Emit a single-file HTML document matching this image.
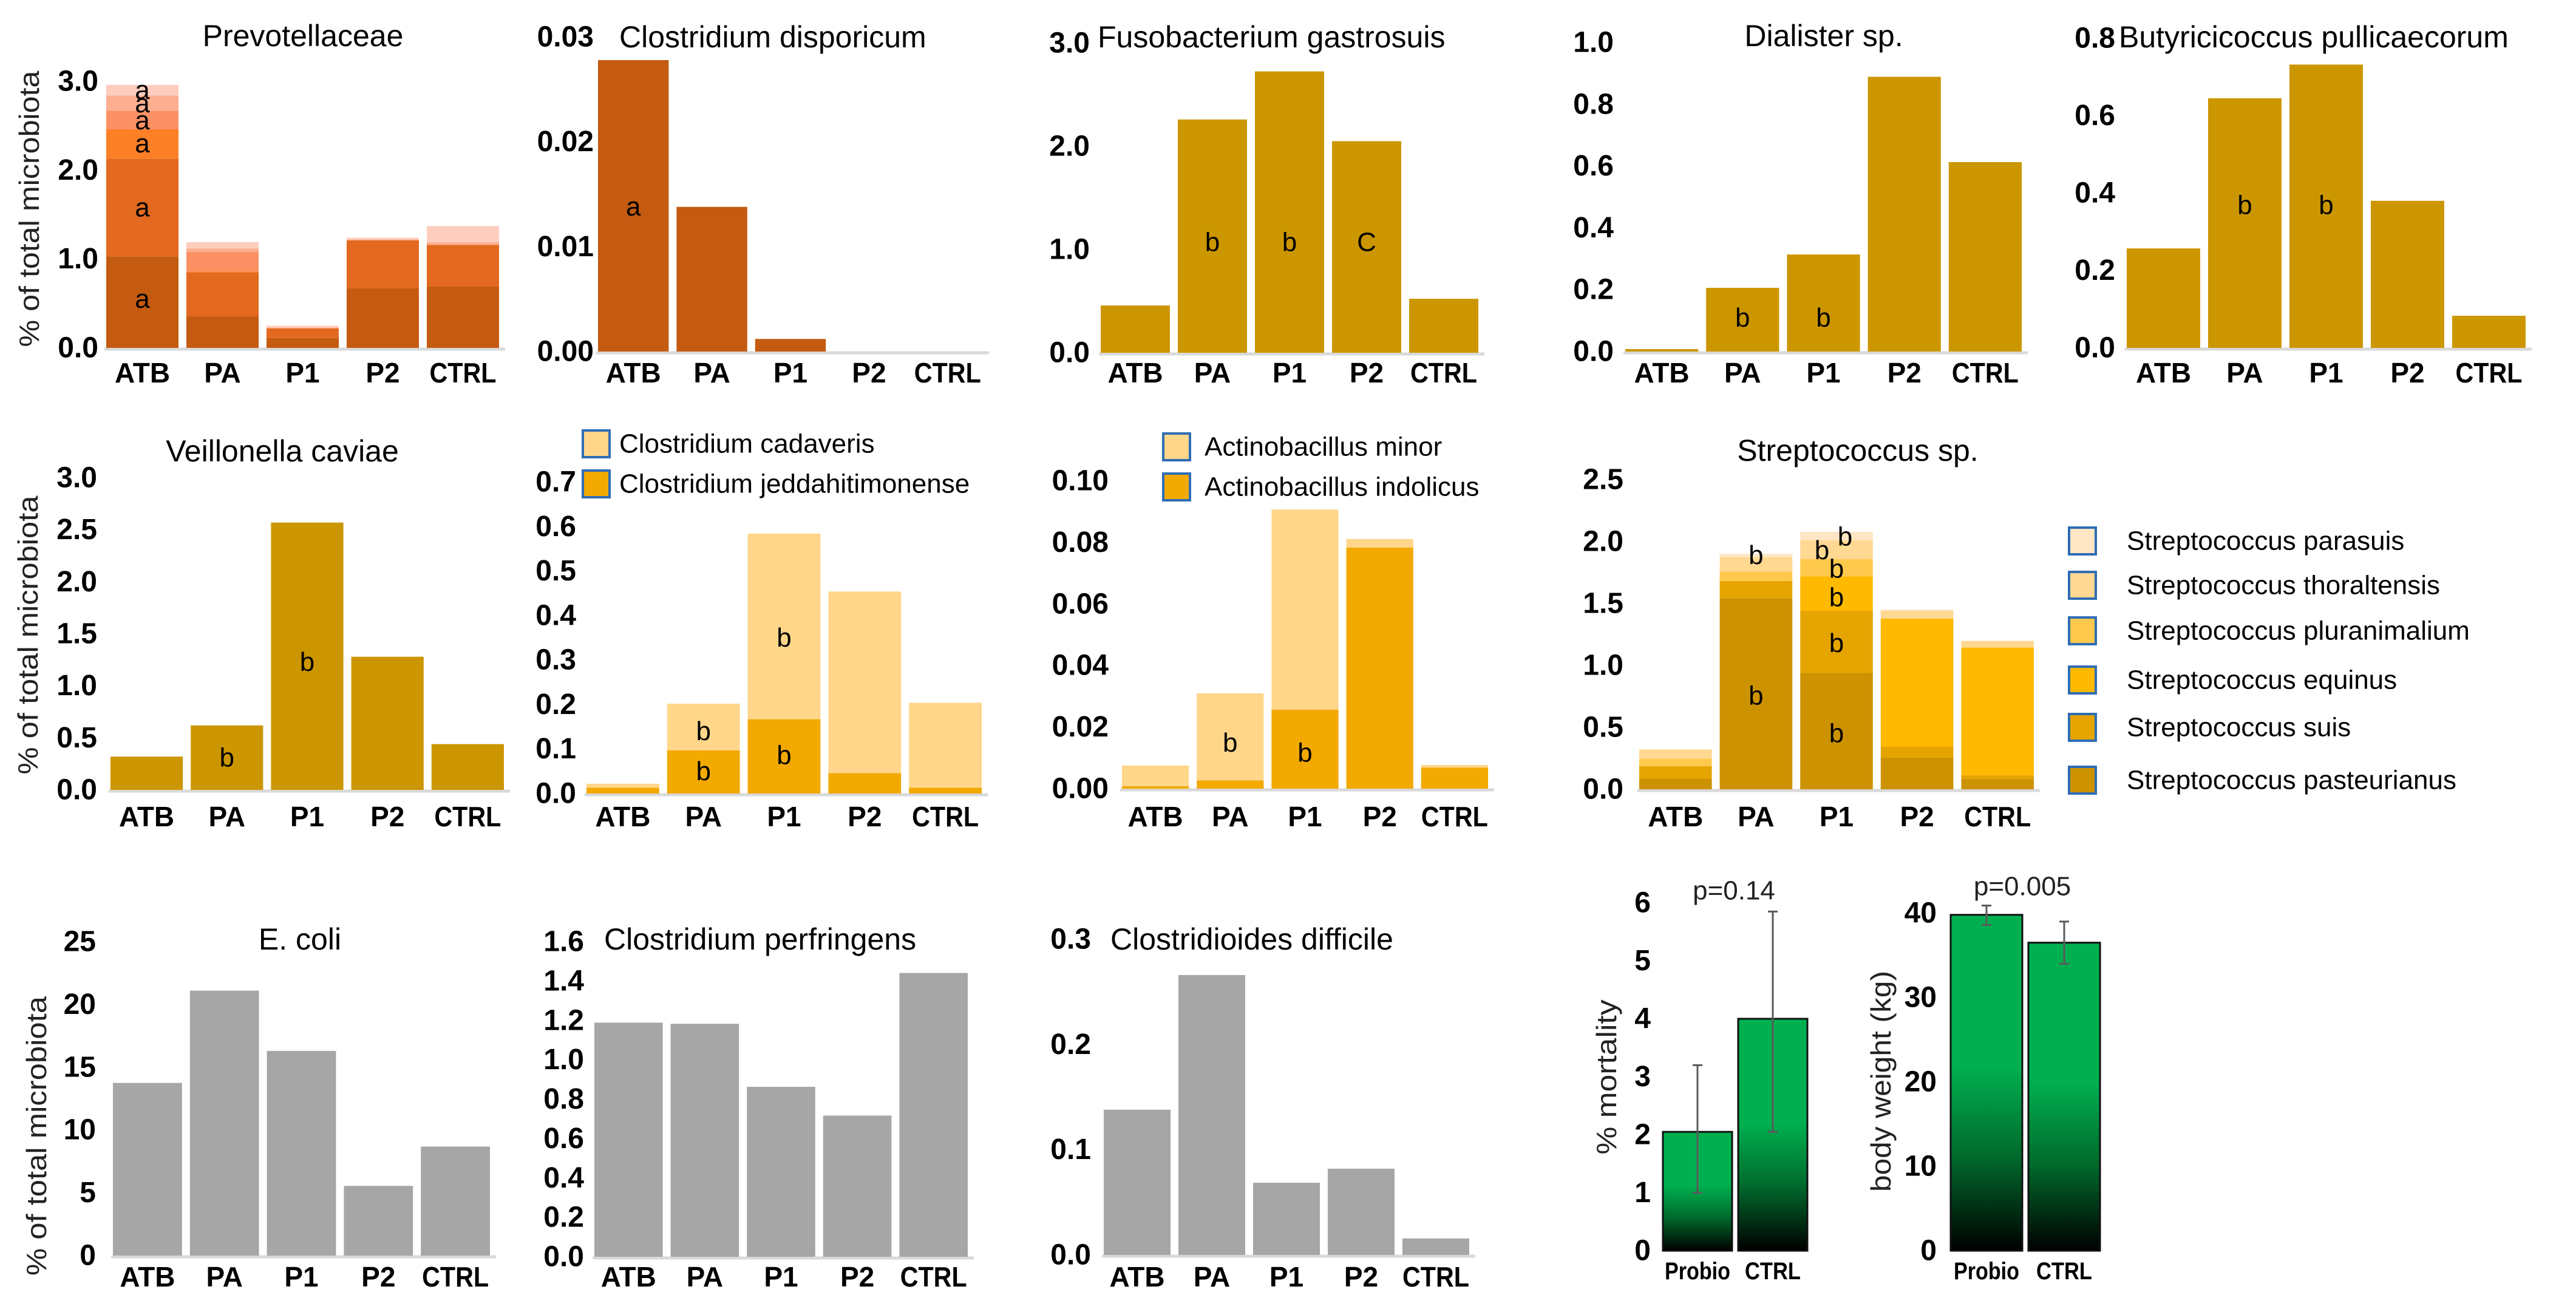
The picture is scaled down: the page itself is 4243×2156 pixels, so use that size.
<!DOCTYPE html>
<html><head><meta charset="utf-8">
<style>
html,body{margin:0;padding:0;background:#fff;}
svg{display:block;font-family:"Liberation Sans",sans-serif;}
</style></head>
<body>
<svg id="fig" width="4243" height="2156" viewBox="0 0 4243 2156">
<defs>
<linearGradient id="greenGrad" x1="0" y1="0" x2="0" y2="1">
<stop offset="0" stop-color="#00b050"/><stop offset="0.45" stop-color="#00b050"/><stop offset="0.72" stop-color="#006a2c"/><stop offset="1" stop-color="#000"/>
</linearGradient>
</defs>
<rect width="4243" height="2156" fill="#fff"/>
</svg>
<script>
// ---------- data ----------
const categories = ['ATB','PA','P1','P2','CTRL'];
const prevoL1 = [1.03, 0.355, 0.11, 0.67, 0.69];
const prevoL2 = [1.10, 0.495, 0.11, 0.54, 0.47];
const prevoL3 = [0.33, 0.01, 0.0, 0.0, 0.0];
const prevoL4 = [0.21, 0.22, 0.0, 0.0, 0.0];
const prevoL5 = [0.17, 0.04, 0.01, 0.01, 0.03];
const prevoL6 = [0.12, 0.07, 0.02, 0.02, 0.18];
const disporicum = [0.0278, 0.0138, 0.0012, 0, 0];
const fusobacterium = [0.458, 2.26, 2.726, 2.05, 0.523];
const dialister = [0.008, 0.206, 0.314, 0.889, 0.613];
const butyricicoccus = [0.257, 0.645, 0.732, 0.38, 0.083];
const veillonella = [0.32, 0.62, 2.57, 1.28, 0.44];
const clJeddah = [0.013, 0.097, 0.167, 0.046, 0.013];
const clCadaveris = [0.009, 0.105, 0.417, 0.408, 0.191];
const actIndolicus = [0.0008, 0.0027, 0.0257, 0.0783, 0.0068];
const actMinor = [0.0067, 0.0283, 0.065, 0.0028, 0.0009];
const strPasteurianus = [0.086, 1.543, 0.939, 0.255, 0.083];
const strSuis = [0.101, 0.139, 0.502, 0.09, 0.03];
const strEquinus = [0, 0, 0.277, 1.033, 1.031];
const strPluranimalium = [0.061, 0.075, 0.14, 0, 0];
const strThoraltensis = [0.074, 0.117, 0.153, 0.063, 0.054];
const strParasuis = [0, 0.027, 0.068, 0.01, 0];
const ecoli = [13.75, 21.1, 16.3, 5.55, 8.68];
const perfringens = [1.189, 1.183, 0.863, 0.717, 1.441];
const difficile = [0.138, 0.266, 0.0686, 0.082, 0.0157];
const groups2 = ['Probio','CTRL'];
const mortality = [2.05, 4.0];
const mortalityLow = [1.0, 2.05];
const mortalityHigh = [3.2, 5.85];
const bodyWeight = [39.8, 36.5];
const bodyWeightLow = [38.6, 34.0];
const bodyWeightHigh = [40.9, 39.0];
const ticks0to3 = ['0.0','1.0','2.0','3.0'];
const ticksDispor = ['0.00','0.01','0.02','0.03'];
const ticksDial = ['0.0','0.2','0.4','0.6','0.8','1.0'];
const ticksButyr = ['0.0','0.2','0.4','0.6','0.8'];
const ticksVeil = ['0.0','0.5','1.0','1.5','2.0','2.5','3.0'];
const ticksClost = ['0.0','0.1','0.2','0.3','0.4','0.5','0.6','0.7'];
const ticksActino = ['0.00','0.02','0.04','0.06','0.08','0.10'];
const ticksStrep = ['0.0','0.5','1.0','1.5','2.0','2.5'];
const ticksEcoli = ['0','5','10','15','20','25'];
const ticksPerf = ['0.0','0.2','0.4','0.6','0.8','1.0','1.2','1.4','1.6'];
const ticksDiff = ['0.0','0.1','0.2','0.3'];
const ticksMort = ['0','1','2','3','4','5','6'];
const ticksBW = ['0','10','20','30','40'];
const prevoLetters = [[0,0.55,'a',0],[0,1.58,'a',0],[0,2.3,'a',0],[0,2.56,'a',0],[0,2.75,'a',0],[0,2.9,'a',0]];
const disporLetters = [[0,0.0138,'a',0]];
const fusoLetters = [[1,1.07,'b',0],[2,1.07,'b',0],[3,1.07,'C',0]];
const dialLetters = [[1,0.109,'b',0],[2,0.109,'b',0]];
const butyrLetters = [[1,0.369,'b',0],[2,0.369,'b',0]];
const veilLetters = [[1,0.31,'b',0],[2,1.23,'b',0]];
const clostLetters = [[1,0.05,'b',0],[1,0.14,'b',0],[2,0.086,'b',0],[2,0.35,'b',0]];
const actinoLetters = [[1,0.0149,'b',0],[2,0.0116,'b',0]];
const strepLetters = [[1,0.754,'b',0],[1,1.89,'b',0],[2,0.45,'b',0],[2,1.18,'b',0],[2,1.55,'b',0],[2,1.78,'b',0],[2,1.93,'b',-24],[2,2.04,'b',14]];

const svg = document.getElementById('fig');
const NS = svg.namespaceURI;
function mk(tag, attrs, parent){
  const el = document.createElementNS(NS, tag);
  for (const k in attrs) el.setAttribute(k, attrs[k]);
  (parent || svg).appendChild(el);
  return el;
}
function txt(str, attrs, parent){
  const el = mk('text', attrs, parent);
  el.textContent = str;
  return el;
}

function panel(o){
  const g = mk('g', {});
  
  
  const band = (o.x1 - o.x0) / categories.length;
  const yS = v => o.base - (v / o.vmax) * (o.base - o.top);
  const ax = mk('line', {x1:o.x0, x2:o.x1, y1:o.base+2, y2:o.base+2, stroke:'#d9d9d9', 'stroke-width':5}, g);
  
  
  o.ticks.forEach((t, i) => {
    const v = o.vmax * i / (o.ticks.length - 1);
    const tl = txt(t, {x:o.tickRight, y:yS(v), 'text-anchor':'end', 'dominant-baseline':'central', 'font-size':48, 'font-weight':'bold', fill:'#000'}, g);
    
    
  });
  categories.forEach((c, i) => {
    let acc = 0;
    const bx = o.x0 + i * band + 3;
    const bw = band - 13;
    o.series.forEach((s, k) => {
      const v = s[i];
      if (v > 0) {
        const r = mk('rect', {x:bx, y:yS(acc + v), width:bw, height:yS(acc) - yS(acc + v), fill:o.colors[k]}, g);
        
        
      }
      acc += v;
    });
    const attrs = {x:bx + bw/2, y:o.catY, 'text-anchor':'middle', 'dominant-baseline':'central', 'font-size':46, 'font-weight':'bold', fill:'#000'};
    if (c.length > 3) { attrs.textLength = 110; attrs.lengthAdjust = 'spacingAndGlyphs'; }
    const cl = txt(c, attrs, g);
    
    
  });
  (o.letters || []).forEach(L => {
    const bx = o.x0 + L[0] * band + 3 + (band - 13) / 2 + L[3];
    const lt = txt(L[2], {x:bx, y:yS(L[1]), 'text-anchor':'middle', 'dominant-baseline':'central', 'font-size':44, fill:'#000'}, g);
    
    
  });
  if (o.title) {
    const tt = txt(o.title, {x:o.titleX, y:o.titleY, 'text-anchor':o.titleAnchor || 'middle', 'dominant-baseline':'central', 'font-size':50, fill:'#000'}, g);
    
    
  }
  return g;
}

function legend(items, colors, x, ys, textX){
  items.forEach((name, i) => {
    const r = mk('rect', {x:x, y:ys[i]-22, width:44, height:44, fill:colors[i], stroke:'#2e6db4', 'stroke-width':4});
    
    
    const t = txt(name, {x:textX, y:ys[i], 'dominant-baseline':'central', 'font-size':44, fill:'#000'});
    
    
  });
}

function yTitle(str, x, y, len){
  const t = txt(str, {x:x, y:y, transform:'rotate(-90 '+x+' '+y+')', 'text-anchor':'middle', 'dominant-baseline':'central', 'font-size':46, fill:'#222', textLength:len, lengthAdjust:'spacingAndGlyphs'});
  
  
}

const orange = ['#c55a11','#e2691f','#fd7f26','#fb9164','#fcae90','#fecdbd'];
const gold = ['#cc9600'];
const grey = ['#a6a6a6'];
const clostColors = ['#f2a900','#ffd68a'];
const strepColors = ['#cc9200','#e6a400','#ffb900','#ffc94d','#ffd891','#ffe6c4'];

panel({name:'prevotellaceae-chart', x0:172, x1:832, base:573, top:134, vmax:3, ticks:ticks0to3, tickRight:162, catY:614,
  series:[prevoL1,prevoL2,prevoL3,prevoL4,prevoL5,prevoL6], colors:orange, letters:prevoLetters,
  title:'Prevotellaceae', titleX:499, titleY:59});
panel({name:'clostridium-disporicum-chart', x0:982, x1:1629, base:579, top:61, vmax:0.03, ticks:ticksDispor, tickRight:978, catY:614,
  series:[disporicum], colors:['#c55a11'], letters:disporLetters,
  title:'Clostridium disporicum', titleX:1020, titleY:61, titleAnchor:'start'});
panel({name:'fusobacterium-chart', x0:1810, x1:2445, base:581, top:71, vmax:3, ticks:ticks0to3, tickRight:1795, catY:614,
  series:[fusobacterium], colors:gold, letters:fusoLetters,
  title:'Fusobacterium gastrosuis', titleX:1808, titleY:61, titleAnchor:'start'});
panel({name:'dialister-chart', x0:2674, x1:3340, base:579, top:70, vmax:1.0, ticks:ticksDial, tickRight:2658, catY:614,
  series:[dialister], colors:gold, letters:dialLetters,
  title:'Dialister sp.', titleX:3004, titleY:59});
panel({name:'butyricicoccus-chart', x0:3500, x1:4170, base:573, top:63, vmax:0.8, ticks:ticksButyr, tickRight:3484, catY:614,
  series:[butyricicoccus], colors:gold, letters:butyrLetters,
  title:'Butyricicoccus pullicaecorum', titleX:3490, titleY:61, titleAnchor:'start'});
yTitle('% of total microbiota', 48, 344, 455);

panel({name:'veillonella-chart', x0:179, x1:840, base:1301, top:787, vmax:3, ticks:ticksVeil, tickRight:160, catY:1345,
  series:[veillonella], colors:gold, letters:veilLetters,
  title:'Veillonella caviae', titleX:465, titleY:743});
panel({name:'clostridium-cadaveris-chart', x0:963, x1:1627, base:1307, top:794, vmax:0.7, ticks:ticksClost, tickRight:949, catY:1345,
  series:[clJeddah, clCadaveris], colors:clostColors, letters:clostLetters});
legend(['Clostridium cadaveris','Clostridium jeddahitimonense'], [clostColors[1], clostColors[0]], 960, [731, 797], 1020);
panel({name:'actinobacillus-chart', x0:1845, x1:2461, base:1299, top:792, vmax:0.10, ticks:ticksActino, tickRight:1826, catY:1345,
  series:[actIndolicus, actMinor], colors:clostColors, letters:actinoLetters});
legend(['Actinobacillus minor','Actinobacillus indolicus'], [clostColors[1], clostColors[0]], 1916, [736, 802], 1984);
panel({name:'streptococcus-chart', x0:2697, x1:3360, base:1300, top:790, vmax:2.5, ticks:ticksStrep, tickRight:2674, catY:1345,
  series:[strPasteurianus,strSuis,strEquinus,strPluranimalium,strThoraltensis,strParasuis], colors:strepColors, letters:strepLetters,
  title:'Streptococcus sp.', titleX:3060, titleY:742});
legend(['Streptococcus parasuis','Streptococcus thoraltensis','Streptococcus pluranimalium','Streptococcus equinus','Streptococcus suis','Streptococcus pasteurianus'],
  strepColors.slice().reverse(), 3408, [891, 964, 1039, 1120, 1198, 1285], 3503);
yTitle('% of total microbiota', 46, 1046, 459);

panel({name:'ecoli-chart', x0:183, x1:817, base:2068, top:1551, vmax:25, ticks:ticksEcoli, tickRight:158, catY:2103,
  series:[ecoli], colors:grey, title:'E. coli', titleX:494, titleY:1547});
panel({name:'clostridium-perfringens-chart', x0:976, x1:1604, base:2070, top:1551, vmax:1.6, ticks:ticksPerf, tickRight:962, catY:2103,
  series:[perfringens], colors:grey, title:'Clostridium perfringens', titleX:995, titleY:1547, titleAnchor:'start'});
panel({name:'clostridioides-difficile-chart', x0:1815, x1:2430, base:2067, top:1547, vmax:0.3, ticks:ticksDiff, tickRight:1797, catY:2103,
  series:[difficile], colors:grey, title:'Clostridioides difficile', titleX:1829, titleY:1547, titleAnchor:'start'});
yTitle('% of total microbiota', 60, 1871, 460);

function outcome(o){
  const g = mk('g', {});
  
  
  const yS = v => o.base - (v / o.vmax) * (o.base - o.top);
  o.ticks.forEach((t, i) => {
    const v = o.vmax * i / (o.ticks.length - 1);
    const tl = txt(t, {x:o.tickRight, y:yS(v), 'text-anchor':'end', 'dominant-baseline':'central', 'font-size':48, 'font-weight':'bold', fill:'#000'}, g);
    
    
  });
  groups2.forEach((c, i) => {
    const bx = o.x0 + i * (o.bw + 10);
    const r = mk('rect', {x:bx, y:yS(o.vals[i]), width:o.bw, height:o.base - yS(o.vals[i]), fill:'url(#greenGrad)', stroke:'#111', 'stroke-width':3}, g);
    
    
    const cx = bx + o.bw / 2;
    const e = mk('path', {d:'M'+cx+' '+yS(o.lo[i])+'V'+yS(o.hi[i])+'M'+(cx-8)+' '+yS(o.lo[i])+'h16M'+(cx-8)+' '+yS(o.hi[i])+'h16', stroke:'#5a5a5a', 'stroke-width':3, fill:'none'}, g);
    
    
    const cl = txt(c, {x:cx, y:2094, 'text-anchor':'middle', 'dominant-baseline':'central', 'font-size':40, 'font-weight':'bold', fill:'#000', textLength:(c.length > 4 ? 108 : 92), lengthAdjust:'spacingAndGlyphs'}, g);
    
    
  });
  const p = txt(o.p, {x:o.pX, y:o.pY, 'text-anchor':'middle', 'dominant-baseline':'central', 'font-size':44, fill:'#222'}, g);
  
  
}
outcome({name:'mortality-chart', x0:2739, bw:114, base:2060, top:1487, vmax:6, ticks:ticksMort, tickRight:2719,
  vals:mortality, lo:mortalityLow, hi:mortalityHigh, p:'p=0.14', pX:2856, pY:1467});
outcome({name:'body-weight-chart', x0:3213, bw:118, base:2060, top:1504, vmax:40, ticks:ticksBW, tickRight:3190,
  vals:bodyWeight, lo:bodyWeightLow, hi:bodyWeightHigh, p:'p=0.005', pX:3331, pY:1460});
yTitle('% mortality', 2646, 1774, 255);
yTitle('body weight (kg)', 3098, 1781, 364);
</script>
</body></html>
